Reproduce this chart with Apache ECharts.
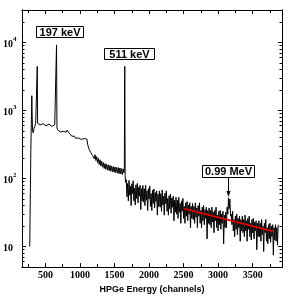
<!DOCTYPE html>
<html><head><meta charset="utf-8">
<script src="https://cdn.jsdelivr.net/npm/echarts@6/dist/echarts.min.js"></script>
<style>html,body{margin:0;padding:0;background:#fff}#c{width:295px;height:299px}</style>
</head><body><div id="c"></div>
<script>
// ---- data (channel, counts) ----
var spectrumLow = [[272,10],[288,260],[302,1650],[312,520],[322,470],[334,545],[346,590],[358,650],[370,630],[376,660],[381,4450],[386,650],[396,625],[410,660],[424,615],[438,650],[452,610],[466,640],[480,600],[494,635],[508,595],[522,625],[536,600],[550,630],[564,590],[578,615],[592,585],[606,610],[620,590],[634,615],[646,600],[654,640],[660,9200],[666,560],[674,520],[688,500],[702,525],[716,485],[730,505],[744,470],[758,495],[772,475],[786,500],[800,480],[812,515],[822,545],[830,520],[840,490],[852,455],[866,440],[880,420],[894,432],[908,405],[922,418],[936,390],[950,405],[964,380],[978,395],[992,378],[1006,392],[1020,375],[1034,390],[1048,370],[1062,388],[1076,378],[1090,400],[1100,380],[1110,320],[1122,290],[1134,265],[1146,255],[1158,240],[1170,236],[1182,218],[1194,230],[1206,196],[1218,224],[1230,184],[1242,210],[1254,171],[1266,198],[1278,161],[1290,189],[1302,153],[1314,179],[1326,147],[1338,172],[1350,141],[1362,166],[1374,137],[1386,162],[1398,133],[1410,159],[1422,131],[1434,156],[1446,128],[1458,153],[1470,126],[1482,150],[1494,124],[1506,148],[1518,122],[1530,146],[1542,120],[1554,145],[1566,118],[1578,143],[1590,117],[1602,140],[1614,114],[1626,139],[1636,122],[1642,140],[1648,4450],[1654,110],[1660,88]];
var spectrumHigh = [[1670,96],[1680,54],[1690,85],[1700,47],[1710,94],[1720,57],[1730,77],[1740,40],[1750,84],[1760,60],[1770,93],[1780,47],[1790,72],[1800,41],[1810,81],[1820,51],[1830,85],[1840,44],[1850,75],[1860,55],[1870,80],[1880,35],[1890,71],[1900,47],[1910,79],[1920,45],[1930,71],[1940,40],[1950,80],[1960,48],[1970,66],[1980,34],[1990,71],[2000,50],[2010,78],[2020,39],[2030,60],[2040,34],[2050,67],[2060,43],[2070,70],[2080,37],[2090,62],[2100,46],[2110,66],[2120,29],[2130,59],[2140,39],[2150,66],[2160,38],[2170,60],[2180,33],[2190,68],[2200,41],[2210,55],[2220,29],[2230,61],[2240,43],[2250,66],[2260,33],[2270,51],[2280,29],[2290,56],[2300,36],[2310,59],[2320,31],[2330,52],[2340,38],[2350,55],[2360,24],[2370,48],[2380,32],[2390,53],[2400,30],[2410,48],[2420,26],[2430,53],[2440,32],[2450,43],[2460,22],[2470,47],[2480,33],[2490,51],[2500,26],[2510,39],[2520,22],[2530,44],[2540,28],[2550,46],[2560,24],[2570,41],[2580,30],[2590,44],[2600,19],[2610,39],[2620,26],[2630,43],[2640,25],[2650,39],[2660,22],[2670,44],[2680,27],[2690,37],[2700,19],[2710,40],[2720,28],[2730,44],[2740,22],[2750,34],[2760,19],[2770,38],[2780,24],[2790,40],[2800,21],[2810,35],[2820,26],[2830,38],[2840,13],[2850,34],[2860,22],[2870,37],[2880,21],[2890,34],[2900,19],[2910,38],[2920,23],[2930,32],[2940,16],[2950,34],[2960,24],[2970,38],[2980,19],[2990,29],[3000,17],[3010,33],[3020,21],[3030,34],[3040,18],[3050,30],[3060,22],[3070,33],[3080,11],[3090,29],[3100,19],[3110,32],[3120,19],[3130,38],[3140,30],[3150,52],[3160,36],[3170,50],[3180,28],[3190,30],[3200,21],[3210,33],[3220,17],[3230,25],[3240,14],[3250,28],[3260,18],[3270,30],[3280,15],[3290,26],[3300,19],[3310,28],[3320,12],[3330,25],[3340,17],[3350,28],[3360,16],[3370,25],[3380,14],[3390,29],[3400,17],[3410,24],[3420,12],[3430,26],[3440,18],[3450,28],[3460,14],[3470,22],[3480,12.5],[3490,25],[3500,16],[3510,26],[3520,13],[3530,23],[3540,17],[3550,24],[3560,9],[3570,22],[3580,14],[3590,24],[3600,14],[3610,22],[3620,12],[3630,25],[3640,15],[3650,20],[3660,8.5],[3670,22],[3680,16],[3690,25],[3700,12],[3710,19],[3720,11],[3730,21],[3740,13],[3750,22],[3760,11.6],[3770,20],[3780,14],[3790,21],[3800,7.5],[3810,19],[3820,12.5],[3830,21],[3840,12],[3850,19],[3860,10.5],[3870,21]];
var fitLine = [[2508,36.3],[3800,16.7]];
var xLabelValues = [500,1000,1500,2000,2500,3000,3500];
var xMinorValues = [250,750,1250,1750,2250,2750,3250,3750];
var yMajorValues = [10,100,1000,10000];
var yMinorValues = [6,7,8,9,20,30,40,50,60,70,80,90,200,300,400,500,600,700,800,900,2000,3000,4000,5000,6000,7000,8000,9000,20000];
var annotations = [
  {text:'197 keV', x:36, y:26, w:47, h:11},
  {text:'511 keV', x:104, y:48, w:50, h:11},
  {text:'0.99 MeV', x:202, y:165, w:52, h:12}
];

var XMIN = 160, XMAX = 3925, YMIN = 5, YMAX = 30000;
var chart = echarts.init(document.getElementById('c'), null, {renderer:'canvas'});

function xAx(pos, ticks, len, labels){
  return {type:'value', position:pos, min:XMIN, max:XMAX,
    axisLine:{show:true, lineStyle:{color:'#000', width:1}},
    splitLine:{show:false},
    axisTick:{show:true, inside:true, length:len, customValues:ticks, lineStyle:{color:'#000'}},
    axisLabel: labels ? {show:true, customValues:labels, formatter:function(v){return String(v);}, color:'#000', fontFamily:'Liberation Serif', fontWeight:'bold', fontSize:10, margin:3} : {show:false},
    name: (labels && pos==='bottom') ? 'HPGe Energy (channels)' : '',
    nameLocation:'middle', nameGap:14,
    nameTextStyle:{color:'#000', fontFamily:'Liberation Sans', fontWeight:'bold', fontSize:9}
  };
}
function yAx(pos, ticks, len, labels){
  return {type:'log', position:pos, min:YMIN, max:YMAX, logBase:10,
    axisLine:{show:true, lineStyle:{color:'#000', width:1}},
    splitLine:{show:false},
    axisTick:{show:true, inside:true, length:len, customValues:ticks, lineStyle:{color:'#000'}},
    axisLabel: labels ? {show:true, customValues:labels, align:'left', margin:19,
      formatter:function(v){var e=Math.round(Math.log10(v)); return e===1?'{b|10}':'{b|10}{s|'+e+'}';},
      rich:{b:{fontFamily:'Liberation Serif', fontWeight:'bold', fontSize:10, color:'#000', lineHeight:14, verticalAlign:'bottom'},
            s:{fontFamily:'Liberation Serif', fontWeight:'bold', fontSize:7, color:'#000', lineHeight:14, verticalAlign:'top'}}} : {show:false}
  };
}

var graphics = [];
annotations.forEach(function(a){
  graphics.push({type:'rect', shape:{x:a.x+0.5, y:a.y+0.5, width:a.w, height:a.h}, style:{fill:'#fff', stroke:'#000', lineWidth:1}, z:100});
  graphics.push({type:'text', x:a.x+a.w/2+0.5, y:a.y+a.h/2+1, style:{text:a.text, fill:'#000', font:'bold 11px "Liberation Sans"', textAlign:'center', textVerticalAlign:'middle'}, z:101});
});
graphics.push({type:'line', shape:{x1:228.5, y1:177.5, x2:228.5, y2:193}, style:{stroke:'#000', lineWidth:1}, z:100});
graphics.push({type:'polygon', shape:{points:[[226.5,191],[230.5,191],[228.5,197]]}, style:{fill:'#000'}, z:100});

chart.setOption({
  animation:false,
  backgroundColor:'#fff',
  grid:{left:22, right:13, top:10, bottom:29},
  xAxis:[xAx('bottom', xLabelValues, 4, xLabelValues), xAx('bottom', xMinorValues, 3, null), xAx('top', xLabelValues, 4, null), xAx('top', xMinorValues, 3, null)],
  yAxis:[yAx('left', yMajorValues, 4, yMajorValues), yAx('left', yMinorValues, 2.5, null), yAx('right', yMajorValues, 4, null), yAx('right', yMinorValues, 2.5, null)],
  series:[
    {type:'line', data:spectrumLow.concat(spectrumHigh), xAxisIndex:0, yAxisIndex:0, symbol:'none', lineStyle:{color:'#000', width:1}, clip:true},
    {type:'line', data:fitLine, xAxisIndex:0, yAxisIndex:0, symbol:'none', lineStyle:{color:'#e00000', width:1.8}, z:5}
  ],
  graphic:graphics
});
</script></body></html>
